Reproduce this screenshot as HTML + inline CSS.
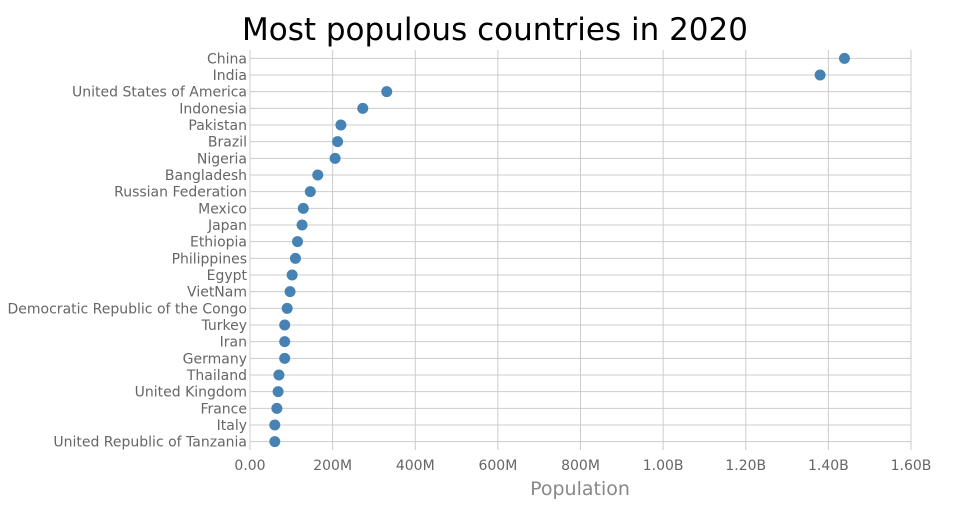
<!DOCTYPE html>
<html><head><meta charset="utf-8"><style>
body{margin:0;background:#fff;font-family:"Liberation Sans","DejaVu Sans",sans-serif}
svg text{font-family:"DejaVu Sans","Liberation Sans",sans-serif}
</style></head><body>
<svg id="chart" width="960" height="500" xmlns="http://www.w3.org/2000/svg">
<text x="495" y="40" text-anchor="middle" font-size="31" fill="#000">Most populous countries in 2020</text>
<g id="grid"></g><g id="labels"></g><g id="dots"></g>
<text x="580" y="495" text-anchor="middle" font-size="19" fill="#888">Population</text>
</svg>
<script>
const countries=["China","India","United States of America","Indonesia","Pakistan","Brazil","Nigeria","Bangladesh","Russian Federation","Mexico","Japan","Ethiopia","Philippines","Egypt","VietNam","Democratic Republic of the Congo","Turkey","Iran","Germany","Thailand","United Kingdom","France","Italy","United Republic of Tanzania"];
const population=[1439e6,1380e6,331e6,273e6,220e6,212e6,206e6,164e6,146e6,129e6,126e6,115e6,110e6,102e6,97e6,90e6,84e6,84e6,84e6,70e6,68e6,65e6,60e6,60e6];
const tickValues=[0,200e6,400e6,600e6,800e6,1000e6,1200e6,1400e6,1600e6];
const tickLabels=["0.00","200M","400M","600M","800M","1.00B","1.20B","1.40B","1.60B"];
const NS="http://www.w3.org/2000/svg";
const X0=250,X1=911,Y0=50,Y1=450,xMax=1.6e9;
const xs=v=>X0+v/xMax*(X1-X0);
const band=(Y1-Y0)/countries.length;
const ys=i=>Y0+band*(i+0.5);
function mk(t,a,p){const e=document.createElementNS(NS,t);for(const k in a)e.setAttribute(k,a[k]);p.appendChild(e);return e;}
const grid=document.getElementById('grid'),labels=document.getElementById('labels'),dots=document.getElementById('dots');
tickValues.forEach((v,i)=>{
 const l=mk('line',{x1:xs(v),x2:xs(v),y1:Y0,y2:Y1,stroke:'#ccc','stroke-width':1},grid);
 
 
 const t=mk('text',{x:xs(v),y:Y1+20,'text-anchor':'middle','font-size':14,fill:'#666'},labels);
 t.textContent=tickLabels[i];
 
 
});
countries.forEach((c,i)=>{
 const l=mk('line',{x1:X0,x2:X1,y1:ys(i),y2:ys(i),stroke:'#ccc','stroke-width':1},grid);
 
 
 const t=mk('text',{x:X0-3,y:ys(i)+5,'text-anchor':'end','font-size':14,fill:'#666'},labels);
 t.textContent=c;
 
 
 const d=mk('circle',{cx:xs(population[i]),cy:ys(i),r:5.5,fill:'#4682b4'},dots);
 
 
});
</script>
</body></html>
